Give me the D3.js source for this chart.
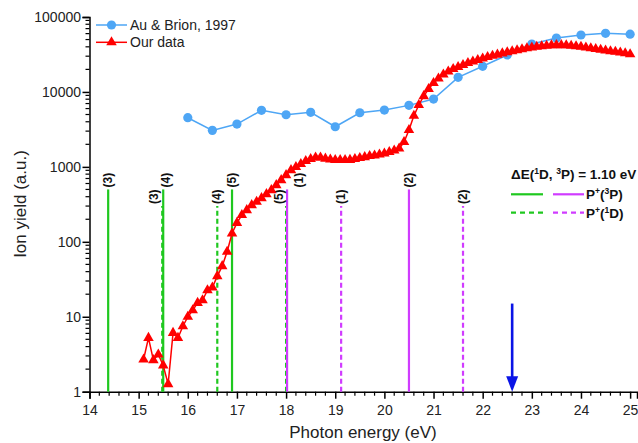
<!DOCTYPE html>
<html>
<head>
<meta charset="utf-8">
<script src="https://cdn.jsdelivr.net/npm/d3@7"></script>
<style>
  body { margin: 0; background: #fff; }
  svg { display: block; font-family: Arial, "Liberation Sans", sans-serif; }
</style>
</head>
<body>
<div id="chart"></div>
<script>
// Au & Brion, 1997
const auEnergy = [16.0, 16.5, 17.0, 17.5, 18.0, 18.5, 19.0, 19.5, 20.0, 20.5,
    21.0, 21.5, 22.0, 22.5, 23.0, 23.5, 24.0, 24.5, 25.0];
const auYield = [4530, 3070, 3725, 5680, 4965, 5345, 3430, 5280, 5730, 6620,
    8040, 15670, 21980, 31100, 43600, 52400, 57500, 60600, 59000];

// our data
const ourEnergy = [15.1, 15.2, 15.3, 15.4, 15.5, 15.6, 15.7, 15.8, 15.9,
    16.0, 16.1, 16.2, 16.3, 16.4, 16.5, 16.6, 16.7, 16.8, 16.9,
    17.0, 17.1, 17.2, 17.3, 17.4, 17.5, 17.6, 17.7, 17.8, 17.9,
    18.0, 18.1, 18.2, 18.3, 18.4, 18.5, 18.6, 18.7, 18.8, 18.9,
    19.0, 19.1, 19.2, 19.3, 19.4, 19.5, 19.6, 19.7, 19.8, 19.9,
    20.0, 20.1, 20.2, 20.3, 20.4, 20.5, 20.6, 20.7, 20.8, 20.9,
    21.0, 21.1, 21.2, 21.3, 21.4, 21.5, 21.6, 21.7, 21.8, 21.9,
    22.0, 22.1, 22.2, 22.3, 22.4, 22.5, 22.6, 22.7, 22.8, 22.9,
    23.0, 23.1, 23.2, 23.3, 23.4, 23.5, 23.6, 23.7, 23.8, 23.9,
    24.0, 24.1, 24.2, 24.3, 24.4, 24.5, 24.6, 24.7, 24.8, 24.9, 25.0];
const ourYield = [2.69, 5.22, 2.64, 3.14, 2.24, 1.26, 6.1, 5.22, 7.48,
    9.98, 12.2, 15.3, 16.6, 22.6, 24.6, 34.8, 47.4, 73.6, 129,
    179, 228, 265, 309, 342, 383, 433, 490, 571, 666,
    777, 906, 994, 1090, 1195, 1271, 1331, 1331, 1290, 1252,
    1233, 1233, 1233, 1240, 1271, 1311, 1351, 1394, 1416, 1460,
    1505, 1576, 1651, 1755, 2144, 3100, 4800, 6700, 8800, 10930,
    13150, 15100, 17070, 18730, 20220, 21500, 22870, 24310, 25460, 26670,
    27920, 29240, 30340, 31480, 32660, 33790, 34850, 36040, 37170, 38210,
    39160, 40010, 40760, 41390, 41910, 42160, 42160, 41910, 41390, 40760,
    40010, 39160, 38320, 37400, 36490, 35700, 34940, 34300, 33570, 32770, 31770];

// P+(3P) thresholds (solid) and P+(1D) thresholds (dashed)
const greenLabels = ["(3)", "(4)", "(5)"];
const magentaLabels = ["(1)", "(2)"];
const green3P = [14.38, 15.50, 16.90];
const magenta3P = [18.02, 20.50];
const green1D = [15.48, 16.60, 18.00];
const magenta1D = [19.12, 21.60];
const height3P = 500;
const height1D = 300;

const arrowEnergy = 22.6;
const arrowTop = 15;

const seriesNames = ["Au & Brion, 1997", "Our data"];
const yTicks = [1, 10, 100, 1000, 10000, 100000];
const xTicks = [14, 15, 16, 17, 18, 19, 20, 21, 22, 23, 24, 25];

const width = 638;
const height = 443;
const margin = {top: 17, right: 1, bottom: 51.3, left: 89.5};

const blue = "#4ea6f5";
const red = "#ff0000";
const green = "#1fc81f";
const magenta = "#d03cff";

const svg = d3.select("#chart")
    .append("svg")
    .attr("width", width)
    .attr("height", height);

const xScale = d3.scaleLinear()
    .domain([14, 25.14])
    .range([margin.left, width - margin.right]);

const yScale = d3.scaleLog()
    .domain([1, 100000])
    .range([height - margin.bottom, margin.top]);

// minor ticks first so the axis line sits on top
const xMinor = d3.range(14, 25.15, 0.2).filter(v => Math.abs(v - Math.round(v)) > 0.01);
svg.append("g")
    .selectAll("line")
    .data(xMinor)
    .join("line")
        .attr("x1", d => xScale(d))
        .attr("x2", d => xScale(d))
        .attr("y1", yScale(1))
        .attr("y2", yScale(1) + 4)
        .attr("stroke", "#000")
        .attr("stroke-width", 1.2);

const yMinor = [];
[1, 10, 100, 1000, 10000].forEach(dec => {
    for (let k = 2; k <= 9; k++) yMinor.push(dec * k);
});
svg.append("g")
    .selectAll("line")
    .data(yMinor)
    .join("line")
        .attr("x1", xScale(14) - 4)
        .attr("x2", xScale(14))
        .attr("y1", d => yScale(d))
        .attr("y2", d => yScale(d))
        .attr("stroke", "#000")
        .attr("stroke-width", 1.2);

const bottomAxis = d3.axisBottom(xScale)
    .tickValues(xTicks)
    .tickFormat(d3.format("d"))
    .tickSizeOuter(0)
    .tickSize(7)
    .tickPadding(6);

svg.append("g")
    .attr("class", "axis-x")
    .attr("transform", `translate(0, ${yScale(1)})`)
    .call(bottomAxis);

const leftAxis = d3.axisLeft(yScale)
    .tickValues(yTicks)
    .tickFormat(d3.format("d"))
    .tickSizeOuter(0)
    .tickSize(7)
    .tickPadding(1.5);

svg.append("g")
    .attr("class", "axis-y")
    .attr("transform", `translate(${xScale(14)}, 0)`)
    .call(leftAxis);

svg.selectAll(".axis-x path, .axis-y path, .axis-x line, .axis-y line")
    .attr("stroke", "#000")
    .attr("stroke-width", 1.5);
svg.selectAll(".axis-x text, .axis-y text")
    .attr("fill", "#222")
    .style("font-size", "14px")
    .style("font-family", "Arial, 'Liberation Sans', sans-serif");

// axis titles
svg.append("text")
    .text("Photon energy (eV)")
    .attr("x", 363)
    .attr("y", 438)
    .attr("text-anchor", "middle")
    .attr("fill", "#222")
    .style("font-size", "17px");

svg.append("text")
    .text("Ion yield (a.u.)")
    .attr("text-anchor", "middle")
    .attr("transform", "translate(26, 204) rotate(-90)")
    .attr("fill", "#222")
    .style("font-size", "17px");

// threshold lines
const levels = [
    ...green3P.map((e, i) => ({e, label: greenLabels[i], color: green, top: height3P, dashed: false})),
    ...magenta3P.map((e, i) => ({e, label: magentaLabels[i], color: magenta, top: height3P, dashed: false})),
    ...green1D.map((e, i) => ({e, label: greenLabels[i], color: green, top: height1D, dashed: true})),
    ...magenta1D.map((e, i) => ({e, label: magentaLabels[i], color: magenta, top: height1D, dashed: true}))
];
//labels that would collide get pushed sideways a little
const nudge = {"1D(3)": -8, "3P(4)": 3, "1D(5)": -7, "3P(1)": 12};

const levelG = svg.append("g");
levelG.selectAll("line")
    .data(levels.filter(d => d.dashed).concat(levels.filter(d => !d.dashed)))
    .join("line")
        .attr("x1", d => xScale(d.e))
        .attr("x2", d => xScale(d.e))
        .attr("y1", yScale(1))
        .attr("y2", d => yScale(d.top))
        .attr("stroke", d => d.color)
        .attr("stroke-width", 2.2)
        .attr("stroke-dasharray", d => d.dashed ? "5,3" : null);

levelG.selectAll("text")
    .data(levels)
    .join("text")
        .text(d => d.label)
        .attr("transform", d => {
            const dx = nudge[(d.dashed ? "1D" : "3P") + d.label] || 0;
            return `translate(${xScale(d.e) + dx}, ${yScale(d.top) - 2}) rotate(-90)`;
        })
        .attr("dominant-baseline", "central")
        .attr("font-weight", "bold")
        .attr("fill", "#111")
        .style("font-size", "12px");

// Au & Brion
const auData = auEnergy.map((e, i) => ({e, v: auYield[i]}));
const ourData = ourEnergy.map((e, i) => ({e, v: ourYield[i]}));

const lineGen = d3.line()
    .x(d => xScale(d.e))
    .y(d => yScale(d.v));

svg.append("path")
    .datum(auData)
    .attr("d", lineGen)
    .attr("fill", "none")
    .attr("stroke", blue)
    .attr("stroke-width", 1.5);

svg.append("g")
    .selectAll("circle")
    .data(auData)
    .join("circle")
        .attr("cx", d => xScale(d.e))
        .attr("cy", d => yScale(d.v))
        .attr("r", 4.6)
        .attr("fill", blue);

// our data
svg.append("path")
    .datum(ourData)
    .attr("d", lineGen)
    .attr("fill", "none")
    .attr("stroke", red)
    .attr("stroke-width", 1.5);

const tri = d3.symbol().type(d3.symbolTriangle).size(48);
svg.append("g")
    .selectAll("path")
    .data(ourData)
    .join("path")
        .attr("d", tri)
        .attr("transform", d => `translate(${xScale(d.e)}, ${yScale(d.v)})`)
        .attr("fill", red);

// blue arrow
const ax = xScale(arrowEnergy);
svg.append("line")
    .attr("x1", ax)
    .attr("x2", ax)
    .attr("y1", yScale(arrowTop))
    .attr("y2", yScale(1) - 12)
    .attr("stroke", "#0a14e6")
    .attr("stroke-width", 2.6);
svg.append("path")
    .attr("d", `M${ax - 6},${yScale(1) - 15.5} L${ax + 6},${yScale(1) - 15.5} L${ax},${yScale(1)} Z`)
    .attr("fill", "#0a14e6");

// top-left legend
const legend = svg.append("g").attr("transform", "translate(96, 25)");
const legendItems = legend.selectAll("g")
    .data(seriesNames)
    .join("g")
        .attr("transform", (d, i) => `translate(0, ${i * 17.3})`);
legendItems.append("line")
    .attr("x1", 0)
    .attr("x2", 31)
    .attr("stroke", (d, i) => i === 0 ? blue : red)
    .attr("stroke-width", 1.5);
legendItems.filter((d, i) => i === 0)
    .append("circle")
        .attr("cx", 15.5)
        .attr("r", 4.6)
        .attr("fill", blue);
legendItems.filter((d, i) => i === 1)
    .append("path")
        .attr("d", tri)
        .attr("transform", "translate(15.5, 0)")
        .attr("fill", red);
legendItems.append("text")
    .text(d => d)
    .attr("x", 34)
    .attr("dominant-baseline", "central")
    .attr("fill", "#222")
    .style("font-size", "14px");

// right legend
const rLeg = svg.append("g").attr("transform", "translate(511, 174)");
const title = rLeg.append("text")
    .attr("x", 0)
    .attr("y", 5)
    .attr("font-weight", "bold")
    .attr("fill", "#111")
    .style("font-size", "13.5px");
title.append("tspan").text("\u0394E(");
title.append("tspan").text("1").attr("dy", -5).style("font-size", "8.5px");
title.append("tspan").text("D, ").attr("dy", 5);
title.append("tspan").text("3").attr("dy", -5).style("font-size", "8.5px");
title.append("tspan").text("P) = 1.10 eV").attr("dy", 5);

const rows = [{dashed: false, sup: "3", state: "P"}, {dashed: true, sup: "1", state: "D"}];
const rowG = rLeg.selectAll(".row")
    .data(rows)
    .join("g")
        .attr("class", "row")
        .attr("transform", (d, i) => `translate(0, ${20.3 + i * 18.4})`);
rowG.append("line")
    .attr("x1", 0).attr("x2", 32)
    .attr("stroke", green)
    .attr("stroke-width", 2.2)
    .attr("stroke-dasharray", d => d.dashed ? "5,4" : null);
rowG.append("line")
    .attr("x1", 42).attr("x2", 73)
    .attr("stroke", magenta)
    .attr("stroke-width", 2.2)
    .attr("stroke-dasharray", d => d.dashed ? "5,4" : null);
const rowText = rowG.append("text")
    .attr("x", 75)
    .attr("y", 5)
    .attr("font-weight", "bold")
    .attr("fill", "#111")
    .style("font-size", "13.5px");
rowText.append("tspan").text("P");
rowText.append("tspan").text("+").attr("dy", -5).style("font-size", "8.5px");
rowText.append("tspan").text("(").attr("dy", 5);
rowText.append("tspan").text(d => d.sup).attr("dy", -5).style("font-size", "8.5px");
rowText.append("tspan").text(d => d.state + ")").attr("dy", 5);
</script>
</body>
</html>
